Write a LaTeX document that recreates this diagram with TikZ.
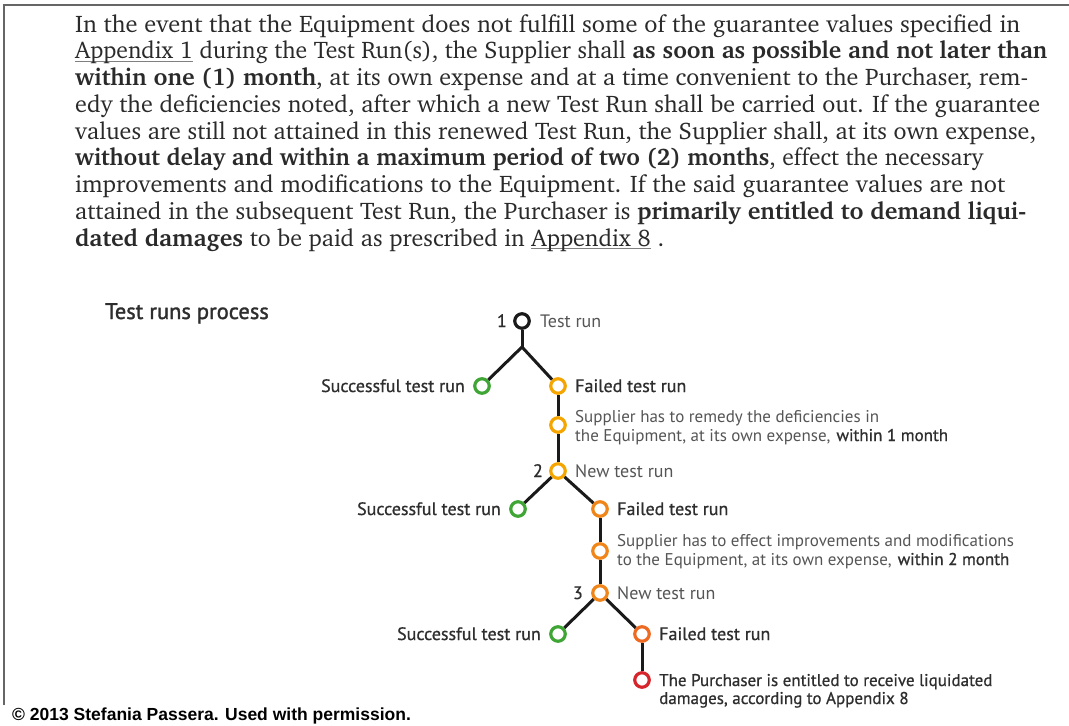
\documentclass[tikz,border=0pt]{standalone}
\usepackage[T1]{fontenc}
\usepackage{fontspec}
\newfontfamily\ptl{PT Sans}
\newfontfamily\ptm{PT Sans}[FakeBold=0.8]
\newfontfamily\ptb{PT Sans}[FakeBold=1.4]
\newfontfamily\arialf{Liberation Sans}
\newcommand\bodyf{\fontencoding{T1}\fontfamily{bch}\fontseries{m}\fontshape{n}\fontsize{24}{27}\selectfont}
\definecolor{amber}{HTML}{F5A500}
\definecolor{orng}{HTML}{F08519}
\definecolor{orred}{HTML}{EE6A23}
\definecolor{redc}{HTML}{D7262B}
\definecolor{greenc}{HTML}{3FA535}
\definecolor{linec}{HTML}{1A1A1A}
\definecolor{labc}{HTML}{2E2E2E}
\definecolor{descc}{HTML}{555555}
\definecolor{bodyc}{HTML}{2A2A2A}
\definecolor{framec}{HTML}{666666}
\newcommand\ulg[1]{\setbox0\hbox{#1}\rlap{\color{gray}\rule[-3pt]{\wd0}{1pt}}\box0\relax}
\newcommand\fitl[2]{\resizebox{#1}{\height}{#2}}
\begin{document}
\begin{tikzpicture}[x=1pt,y=-1pt,
  ring/.style={circle, draw, line width=3.2pt, minimum size=14.5pt, inner sep=0pt, fill=white},
  conn/.style={line width=3pt, draw=linec, line join=round},
  body/.style={anchor=base west, inner sep=0pt, font=\bodyf, text=bodyc},
  lab/.style={inner sep=0pt, font=\ptm\fontsize{18}{20}\selectfont, text=labc},
  desc/.style={anchor=base west, inner sep=0pt, font=\ptl\fontsize{17}{19}\selectfont, text=descc},
  dark/.style={anchor=base west, inner sep=0pt, font=\ptm\fontsize{17}{19}\selectfont, text=labc}]
\useasboundingbox (0,0) rectangle (1069,726);
\fill[white] (0,0) rectangle (1069,726);
\draw[framec, line width=2.5pt] (4,705) -- (4,5) -- (1069,5);

% paragraph
\node[body] (b1) at (75,32) {\fitl{945pt}{In the event that the Equipment does not fulfill some of the guarantee values specified in}};
\node[body] (b2) at (75,58.75) {\fitl{972pt}{\ulg{Appendix 1} during the Test Run(s), the Supplier shall \textbf{as soon as possible and not later than}}};
\node[body] (b3) at (75,85.5) {\fitl{953pt}{\textbf{within one (1) month}, at its own expense and at a time convenient to the Purchaser, rem-}};
\node[body] (b4) at (75,112.25) {\fitl{965pt}{edy the deficiencies noted, after which a new Test Run shall be carried out. If the guarantee}};
\node[body] (b5) at (75,139) {\fitl{961pt}{values are still not attained in this renewed Test Run, the Supplier shall, at its own expense,}};
\node[body] (b6) at (75,165.75) {\fitl{908pt}{\textbf{without delay and within a maximum period of two (2) months}, effect the necessary}};
\node[body] (b7) at (75,192.5) {\fitl{930pt}{improvements and modifications to the Equipment. If the said guarantee values are not}};
\node[body] (b8) at (75,219.25) {\fitl{951pt}{attained in the subsequent Test Run, the Purchaser is \textbf{primarily entitled to demand liqui-}}};
\node[body] (b9) at (75,246) {\fitl{589pt}{\textbf{dated damages} to be paid as prescribed in \ulg{Appendix 8} .}};

% title
\node[anchor=base west, inner sep=0pt, font=\ptb\fontsize{22.5}{24}\selectfont, text=labc] (title) at (105,319) {Test runs process};

% circles
\node[ring, draw=linec] (c1) at (522,321) {};
\coordinate (j1) at (522,347);
\node[ring, draw=greenc] (g1) at (482,386) {};
\node[ring, draw=amber] (f1) at (558,386) {};
\node[ring, draw=amber] (m1) at (558,425) {};
\node[ring, draw=amber] (c2) at (558,471) {};
\node[ring, draw=greenc] (g2) at (518,509) {};
\node[ring, draw=orng] (f2) at (600,509) {};
\node[ring, draw=orng] (m2) at (600,551) {};
\node[ring, draw=orng] (c3) at (600,593) {};
\node[ring, draw=greenc] (g3) at (558,634) {};
\node[ring, draw=orred] (f3) at (642,634) {};
\node[ring, draw=redc] (r) at (642,680) {};

% connectors
\draw[conn] (c1) -- (j1);
\draw[conn] (g1) -- (j1) -- (f1);
\draw[conn] (f1) -- (m1);
\draw[conn] (m1) -- (c2);
\draw[conn] (c2) -- (g2);
\draw[conn] (c2) -- (f2);
\draw[conn] (f2) -- (m2);
\draw[conn] (m2) -- (c3);
\draw[conn] (c3) -- (g3);
\draw[conn] (c3) -- (f3);
\draw[conn] (f3) -- (r);

% labels level 1
\node[lab, anchor=base east] (n1) at ([xshift=-15pt,yshift=-6pt]c1.center) {1};
\node[desc, font=\ptl\fontsize{18}{20}\selectfont] (t1) at ([xshift=18pt,yshift=-6pt]c1.center) {Test run};
\node[lab, anchor=base east] (sg1) at ([xshift=-17pt,yshift=-6pt]g1.center) {Successful test run};
\node[lab, anchor=base west] (sf1) at ([xshift=17pt,yshift=-6pt]f1.center) {Failed test run};
\node[desc] (d1a) at ([xshift=17pt,yshift=3pt]m1.center) {Supplier has to remedy the deficiencies in};
\node[desc] (d1b) at ([xshift=17pt,yshift=-16pt]m1.center) {the Equipment, at its own expense,\hspace{6pt}{\ptm\color{labc}within 1 month}};

% labels level 2
\node[lab, anchor=base east] (n2) at ([xshift=-15pt,yshift=-6pt]c2.center) {2};
\node[desc, font=\ptl\fontsize{18}{20}\selectfont] (t2) at ([xshift=17pt,yshift=-6pt]c2.center) {New test run};
\node[lab, anchor=base east] (sg2) at ([xshift=-17pt,yshift=-6pt]g2.center) {Successful test run};
\node[lab, anchor=base west] (sf2) at ([xshift=17pt,yshift=-6pt]f2.center) {Failed test run};
\node[desc] (d2a) at ([xshift=17pt,yshift=5pt]m2.center) {Supplier has to effect improvements and modifications};
\node[desc] (d2b) at ([xshift=17pt,yshift=-14pt]m2.center) {to the Equipment, at its own expense,\hspace{6pt}{\ptm\color{labc}within 2 month}};

% labels level 3
\node[lab, anchor=base east] (n3) at ([xshift=-17pt,yshift=-6pt]c3.center) {3};
\node[desc, font=\ptl\fontsize{18}{20}\selectfont] (t3) at ([xshift=17pt,yshift=-6pt]c3.center) {New test run};
\node[lab, anchor=base east] (sg3) at ([xshift=-17pt,yshift=-6pt]g3.center) {Successful test run};
\node[lab, anchor=base west] (sf3) at ([xshift=17pt,yshift=-6pt]f3.center) {Failed test run};
\node[dark] (ra) at ([xshift=17pt,yshift=-6pt]r.center) {The Purchaser is entitled to receive liquidated};
\node[dark] (rb) at ([xshift=17pt,yshift=-24pt]r.center) {damages, according to Appendix 8};

% copyright
\node[anchor=base west, inner sep=0pt, font=\arialf\bfseries\fontsize{17.5}{20}\selectfont, text=black] (copy) at (12,720) {© 2013 Stefania Passera. Used with permission.};
\end{tikzpicture}
\end{document}
